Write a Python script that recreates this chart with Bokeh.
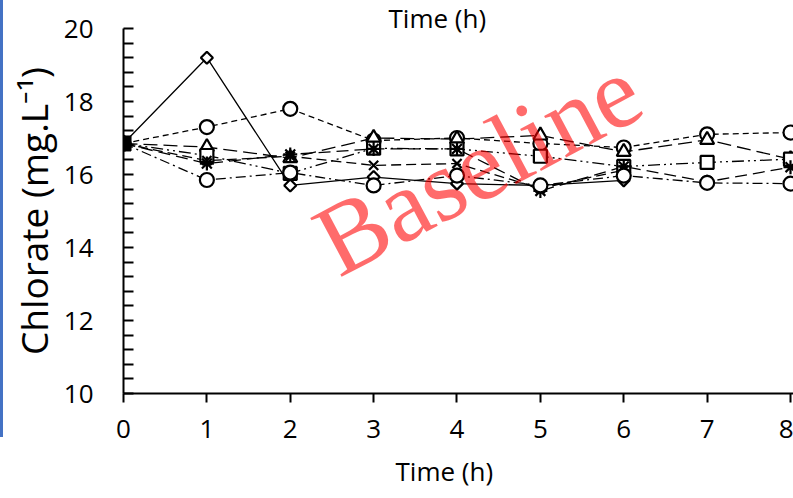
import math
from bokeh.plotting import figure
from bokeh.models import Range1d, FixedTicker, Label, Div, Title
from bokeh.layouts import row
from bokeh.embed import file_html
from bokeh.resources import INLINE

# Sampling times (h)
times = [0, 1, 2, 3, 4, 5, 6, 7, 8]
x_tick_labels = ["0", "1", "2", "3", "4", "5", "6", "7", "8"]
y_ticks = [10, 12, 14, 16, 18, 20]

# Chlorate concentration (mg/L) per run
start_value = 16.85
run_diamond = [16.85, 19.2, 15.7, 15.93, 15.75, 15.7, 15.84]
run_circle_a = [16.85, 17.3, 17.8, 16.93, 17.0, 16.85, 16.74, 17.1, 17.15]
run_triangle = [16.85, 16.75, 16.45, 17.0, 16.97, 17.07, 16.62, 16.95, 16.42]
run_square = [16.85, 16.52, 16.03, 16.72, 16.7, 16.5, 16.22, 16.33, 16.42]
run_cross = [16.85, 16.38, 16.5, 16.25, 16.3, 15.62, 16.12]
run_asterisk = [16.85, 16.3, 16.55, 16.7, 16.7, 15.55, 16.22, 15.8, 16.2]
run_circle_b = [16.85, 15.85, 16.05, 15.7, 15.97, 15.7, 15.97, 15.77, 15.75]

series = [
    # values, marker, size, angle, dash
    (run_diamond, "square", 8.5, math.pi / 4, "solid"),
    (run_circle_a, "circle", 14, 0, "6 4"),
    (run_triangle, "triangle", 14, 0, "14 6"),
    (run_square, "square", 13, 0, "12 4 2 4 2 4"),
    (run_cross, "x", 13, 0, "10 5"),
    (run_asterisk, "asterisk", 14, 0, "12 6"),
    (run_circle_b, "circle", 14, 0, "10 4 2 4"),
]

FONT = "Open Sans"

p = figure(width=790, height=498, output_backend="svg", toolbar_location=None,
           x_range=Range1d(0, 8.036), y_range=Range1d(10, 20),
           min_border_left=120, min_border_right=0, min_border_top=28,
           min_border_bottom=105)
p.outline_line_color = None
p.grid.grid_line_color = None
p.background_fill_color = "white"
p.border_fill_color = "white"

for vals, marker, size, ang, dash in series:
    xs = times[:len(vals)]
    p.line(xs, vals, line_color="black", line_width=1.3, line_dash=dash)
for vals, marker, size, ang, dash in series:
    xs = times[:len(vals)]
    p.scatter(xs, vals, marker=marker, size=size, angle=ang,
              fill_color="white", line_color="black", line_width=2.2)

# shared starting point
p.scatter([times[0]], [start_value], marker="square", size=15,
          fill_color="black", line_color="black")

# axes
xa = p.xaxis[0]
xa.ticker = FixedTicker(ticks=times)
xa.major_label_overrides = {t: s for t, s in zip(times, x_tick_labels)}
xa.major_tick_in = 0
xa.major_tick_out = 9
xa.minor_tick_line_color = None
xa.axis_line_width = 2
xa.major_tick_line_width = 2
xa.major_label_standoff = 17
xa.major_label_text_font = FONT
xa.major_label_text_font_size = "26px"
xa.major_label_text_color = "black"

ya = p.yaxis[0]
minor = [round(v + k * 0.4, 2) for v in y_ticks[:-1] for k in range(1, 5)]
ya.ticker = FixedTicker(ticks=y_ticks, minor_ticks=minor)
ya.major_tick_in = 10
ya.major_tick_out = 0
ya.minor_tick_in = 10
ya.minor_tick_out = 0
ya.axis_line_width = 2
ya.major_tick_line_width = 2
ya.minor_tick_line_width = 2
ya.major_label_standoff = 30
ya.major_label_text_font = FONT
ya.major_label_text_font_size = "26px"
ya.major_label_text_color = "black"
ya.axis_label = "Chlorate (mg.L\u207b\u00b9)"
ya.axis_label_text_font = FONT
ya.axis_label_text_font_size = "37px"
ya.axis_label_text_font_style = "normal"
ya.axis_label_text_color = "black"
ya.axis_label_standoff = 2

# axis titles (top and bottom)
p.add_layout(Title(text="Time (h)", align="left", offset=265, standoff=-15,
                   vertical_align="bottom",
                   text_font=FONT, text_font_size="26px",
                   text_font_style="normal", text_color="black"), "above")
p.add_layout(Title(text="Time (h)", align="left", offset=272, standoff=20,
                   text_font=FONT, text_font_size="26px",
                   text_font_style="normal", text_color="black"), "below")

# watermark
p.add_layout(Label(x=4.25, y=16.25, text="Baseline", text_font="Liberation Serif",
                   text_font_size="102px", text_align="center",
                   text_baseline="middle", angle=28, angle_units="deg",
                   text_color="red", text_alpha=0.58))

bar = Div(width=3, height=437, margin=0,
          styles={"background-color": "#4472c4"})
layout = row(bar, p, spacing=0, margin=0)

open("out.html", "w").write(file_html(layout, INLINE))
